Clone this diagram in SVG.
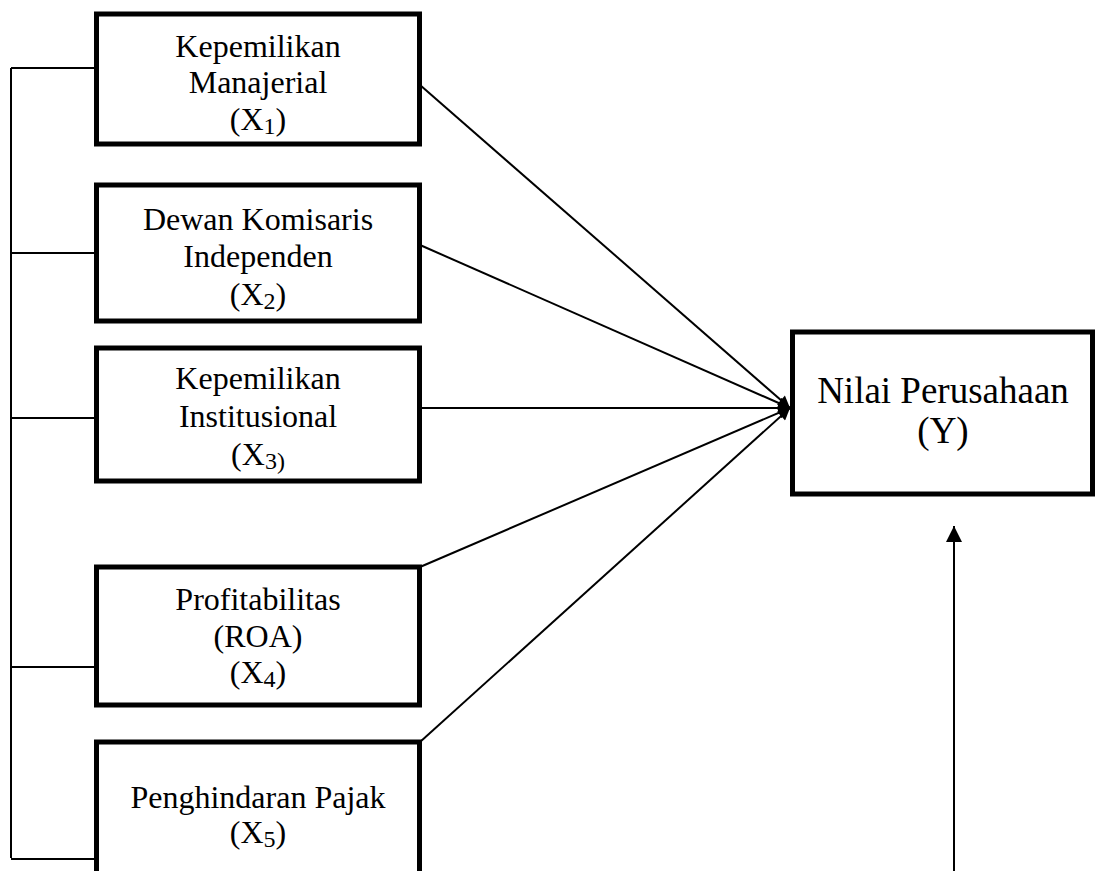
<svg xmlns="http://www.w3.org/2000/svg" width="1096" height="871" viewBox="0 0 1096 871">
<defs>
<style>
.box{fill:#fff;stroke:#000;stroke-width:5}
.t{font-family:"Liberation Serif","Times New Roman",serif;font-size:32px;fill:#000;text-anchor:middle}
.ty{font-family:"Liberation Serif","Times New Roman",serif;font-size:37px;fill:#000;text-anchor:middle}
.sub{font-size:24px}
.ln{fill:none;stroke:#000;stroke-width:2}
</style>
<marker id="ah" viewBox="0 0 10 10" refX="10" refY="5" markerWidth="16" markerHeight="12" markerUnits="userSpaceOnUse" orient="auto">
<path d="M0,0 L10,5 L0,10 z" fill="#000"/>
</marker>
<marker id="ahu" viewBox="0 0 10 10" refX="10" refY="5" markerWidth="16" markerHeight="16" markerUnits="userSpaceOnUse" orient="auto">
<path d="M0,0 L10,5 L0,10 z" fill="#000"/>
</marker>
</defs>
<g id="connectors">
<path class="ln" d="M11,68 V858 M11,68 H96 M11,253 H96 M11,667 H96"/>
<path class="ln" stroke-width="3" d="M11,418 H96 M11,859 H96"/>
<line class="ln" x1="420" y1="85" x2="790" y2="408" marker-end="url(#ah)"/>
<line class="ln" x1="420" y1="245" x2="790" y2="408" marker-end="url(#ah)"/>
<line class="ln" x1="420" y1="408" x2="790" y2="408" marker-end="url(#ah)"/>
<line class="ln" x1="420" y1="567" x2="790" y2="408" marker-end="url(#ah)"/>
<line class="ln" x1="420" y1="742" x2="790" y2="408" marker-end="url(#ah)"/>
<line class="ln" x1="954" y1="871" x2="954" y2="526" marker-end="url(#ahu)"/>
</g>
<g id="x1">
<rect class="box" x="96.5" y="14" width="323" height="130"/>
<text class="t" x="258" y="57">Kepemilikan</text>
<text class="t" x="258" y="93">Manajerial</text>
<text class="t" x="258" y="130">(X<tspan class="sub" dy="4">1</tspan><tspan dy="-4">)</tspan></text>
</g>
<g id="x2">
<rect class="box" x="96.5" y="185" width="323" height="136"/>
<text class="t" x="258" y="230">Dewan Komisaris</text>
<text class="t" x="258" y="267">Independen</text>
<text class="t" x="258" y="305">(X<tspan class="sub" dy="4">2</tspan><tspan dy="-4">)</tspan></text>
</g>
<g id="x3">
<rect class="box" x="96.5" y="348" width="323" height="133"/>
<text class="t" x="258" y="389">Kepemilikan</text>
<text class="t" x="258" y="427">Institusional</text>
<text class="t" x="258" y="465">(X<tspan class="sub" dy="4">3)</tspan></text>
</g>
<g id="x4">
<rect class="box" x="96.5" y="567" width="323" height="138"/>
<text class="t" x="258" y="610">Profitabilitas</text>
<text class="t" x="258" y="647">(ROA)</text>
<text class="t" x="258" y="683">(X<tspan class="sub" dy="4">4</tspan><tspan dy="-4">)</tspan></text>
</g>
<g id="x5">
<rect class="box" x="96.5" y="742" width="323" height="160"/>
<text class="t" x="258" y="808">Penghindaran Pajak</text>
<text class="t" x="258" y="843">(X<tspan class="sub" dy="4">5</tspan><tspan dy="-4">)</tspan></text>
</g>
<g id="y">
<rect class="box" x="792.5" y="332" width="300" height="162"/>
<text class="ty" x="943" y="403">Nilai Perusahaan</text>
<text class="ty" x="943" y="443">(Y)</text>
</g>
</svg>
